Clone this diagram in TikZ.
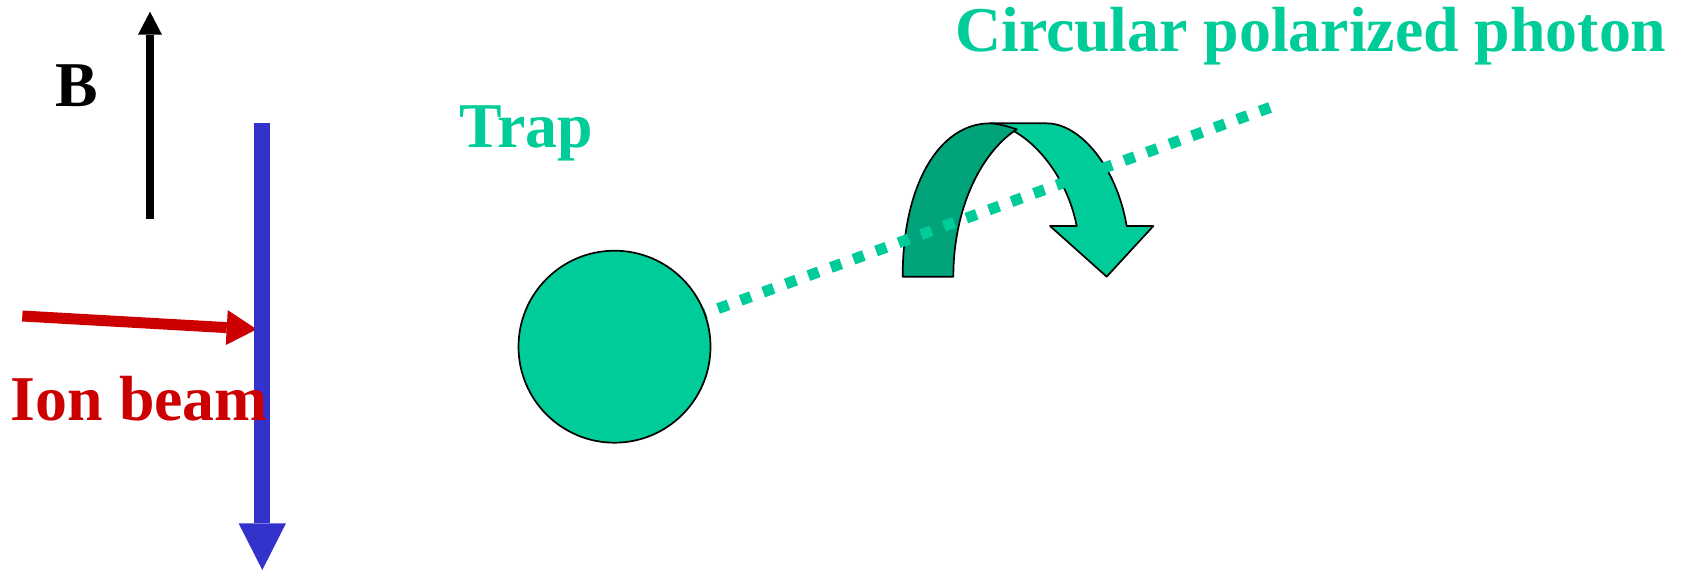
\documentclass[tikz,border=0pt]{standalone}
\usepackage{fontspec}
\setmainfont{Liberation Serif}
\usetikzlibrary{arrows.meta}
\definecolor{tgreen}{RGB}{0,204,153}
\definecolor{tdark}{RGB}{0,163,122}
\definecolor{tred}{RGB}{204,0,0}
\definecolor{tblue}{RGB}{51,51,204}
\begin{document}
\begin{tikzpicture}[x=1pt,y=-1pt,
  lbl/.style={anchor=base west, inner sep=0pt, font=\bfseries\fontsize{63.8}{70}\selectfont},
  outl/.style={draw=black, line width=1.7pt, line join=round}]
\useasboundingbox (0,0) rectangle (1683,571);
% named points
\coordinate (bS) at (150,219);   \coordinate (bE) at (150,11.7);
\coordinate (iS) at (22.3,316);  \coordinate (iE) at (256.7,329.3);
\coordinate (vS) at (262.3,123.3); \coordinate (vE) at (262.3,570);
\coordinate (d0) at (695.5,316.8); \coordinate (d1) at (1270.2,107.4);
% B arrow
\draw[black, line width=8pt, -{Triangle[length=23pt,width=24pt,line width=0pt]}] (bS) -- (bE);
% ion beam arrow
\draw[tred, line width=11pt, -{Triangle[length=30pt,width=35pt,line width=0pt]}] (iS) -- (iE);
% blue arrow
\draw[tblue, line width=16pt, -{Triangle[length=46.7pt,width=47.4pt,line width=0pt]}] (vS) -- (vE);
% curved arrow (light part)
\filldraw[fill=tgreen, outl] (990,123.33) -- (1046.67,123.33)
  .. controls (1080,123.33) and (1116.67,166.67) .. (1126.67,226)
  -- (1153.33,226) -- (1106.67,276.67) -- (1050,226) -- (1076.67,226)
  .. controls (1066.67,173.33) and (1026.67,126.67) .. (990,123.33) -- cycle;
% curved arrow (dark part)
\filldraw[fill=tdark, outl] (902.67,276.67)
  .. controls (902.67,183.33) and (940,123.33) .. (990,123.33)
  .. controls (1000,124) and (1008,126.5) .. (1016.67,129.33)
  .. controls (980,153.33) and (953.33,210) .. (953.33,276.67) -- cycle;
% photon dotted line
\draw[tgreen, line width=11pt, dash pattern=on 11pt off 13.02pt] (d0) -- (d1);
% trap
\node[circle, fill=tgreen, outl, minimum size=192pt, inner sep=0pt] (trap) at (614.5,346.7) {};
% labels
\node[lbl, text=black] (blbl) at (55,106.7) {B};
\node[lbl, text=tgreen] (traplbl) at (459,147) {Trap};
\node[lbl, text=tgreen] (photon) at (955,51.5) {Circular polarized photon};
\node[lbl, text=tred] (ion) at (10.7,420.7) {Ion beam};
\end{tikzpicture}
\end{document}
